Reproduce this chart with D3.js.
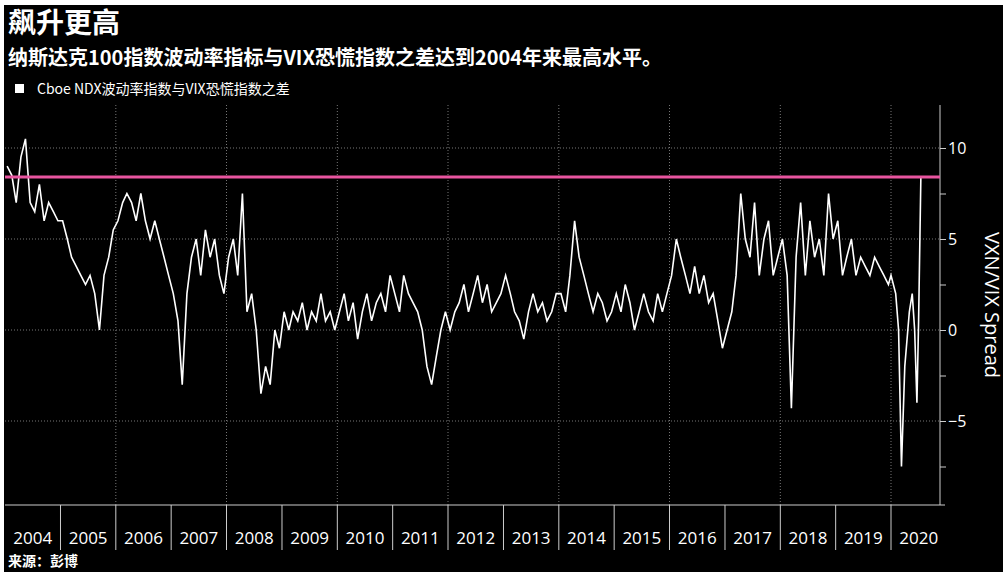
<!DOCTYPE html>
<html><head><meta charset="utf-8">
<script src="https://cdn.jsdelivr.net/npm/d3@7"></script>
<style>body{margin:0;background:#fff}svg{display:block}</style>
</head><body><svg id="c" width="1007" height="576"></svg>
<script>
// monthly readings 2004-2019, then 2020 by date
const yearsMonthly = d3.range(2004, 2020);
const spreadMonthly = [
  9, 8.5, 7, 9.5, 10.5, 7, 6.5, 8, 6, 7, 6.5, 6,
  6, 5, 4, 3.5, 3, 2.5, 3, 2, 0, 3, 4, 5.5,
  6, 7, 7.5, 7, 6, 7.5, 6, 5, 6, 5, 4, 3,
  2, 0.5, -3, 2, 4, 5, 3, 5.5, 4, 5, 3, 2,
  4, 5, 3, 7.5, 1, 2, 0, -3.5, -2, -3, 0, -1,
  1, 0, 1, 0.5, 1.5, 0, 1, 0.5, 2, 0.5, 1, 0,
  1, 2, 0.5, 1.5, -0.5, 1, 2, 0.5, 1.5, 2, 1, 3,
  2, 1, 3, 2, 1.5, 1, 0, -2, -3, -1.5, 0, 1,
  0, 1, 1.5, 2.5, 1, 2, 3, 1.5, 2.5, 1, 1.5, 2,
  3, 2, 1, 0.5, -0.5, 1, 2, 1, 1.5, 0.5, 1, 2,
  2, 1, 3, 6, 4, 3, 2, 1, 2, 1.5, 0.5, 1,
  2, 1, 2.5, 1.5, 0, 1, 2, 1, 0.5, 2, 1, 2,
  3, 5, 4, 3, 2, 3.5, 2, 3, 1.5, 2, 0.5, -1,
  0, 1, 3, 7.5, 5, 4, 7, 3, 5, 6, 3, 4,
  5, 3, -4.3, 4, 7, 3, 6, 4, 5, 3, 7.5, 5,
  6, 3, 4, 5, 3, 4, 3.5, 3, 4, 3.5, 3, 2.5
];
const dates2020 = ["2020-01-01","2020-02-01","2020-02-20","2020-03-10","2020-04-01","2020-05-01","2020-05-20","2020-06-05","2020-06-20","2020-07-01","2020-07-16"];
const spread2020 = [3, 2, 0, -7.5, -2, 1, 2, 0, -4, 0.5, 8.4];
const highLevel = 8.4;
const yTicks = [10, 5, 0, -5];
const yearLabels = d3.range(2004, 2021);

const data = [];
yearsMonthly.forEach((y, i) => {
  for (let m = 0; m < 12; m++) data.push({ d: new Date(y, m, 15), v: spreadMonthly[i * 12 + m] });
});
dates2020.forEach((s, i) => data.push({ d: new Date(s), v: spread2020[i] }));

const svg = d3.select('#c');
svg.append('rect').attr('x', 4).attr('y', 5).attr('width', 999).attr('height', 567).attr('fill', '#000');

const x = d3.scaleTime().domain([new Date(2004, 0, 1), new Date(2020, 0, 1)]).range([5, 891]);
const y = d3.scaleLinear().domain([0, 10]).range([330, 148]);
const L = 5, R = 940, T = 105, B = 505;

// gridlines
svg.append('g').selectAll('line').data(yTicks).join('line')
  .attr('x1', L).attr('x2', R).attr('y1', d => y(d)).attr('y2', d => y(d))
  .attr('stroke', '#777').attr('stroke-dasharray', '1,2');
svg.append('g').selectAll('line').data(d3.range(2006, 2021, 2)).join('line')
  .attr('x1', d => x(new Date(d, 0, 1))).attr('x2', d => x(new Date(d, 0, 1)))
  .attr('y1', T).attr('y2', B).attr('stroke', '#777').attr('stroke-dasharray', '1,2');

// right axis
const ax = svg.append('g').attr('transform', `translate(${R},0)`)
  .call(d3.axisRight(y).tickValues([10, 7.5, 5, 2.5, 0, -2.5, -5, -7.5]).tickSize(6)
    .tickFormat(d => yTicks.includes(d) ? d3.format('d')(d) : ''));
ax.select('.domain').attr('stroke', '#ccc').attr('d', `M0,${T}V${B}`);
ax.selectAll('line').attr('stroke', '#ccc');
ax.selectAll('text').attr('fill', '#fff').attr('font-size', 16).attr('font-family', 'Open Sans, sans-serif').attr('x', 8);
svg.append('text').attr('transform', `translate(985,305) rotate(90)`)
  .attr('text-anchor', 'middle').attr('fill', '#fff').attr('font-size', 20)
  .attr('font-family', 'Open Sans, sans-serif').text('VXN/VIX Spread');

// bottom axis box
svg.append('line').attr('x1', L).attr('x2', 945).attr('y1', B).attr('y2', B).attr('stroke', '#ccc');
svg.append('g').selectAll('line').data(yearLabels.slice(1)).join('line')
  .attr('x1', d => x(new Date(d, 0, 1))).attr('x2', d => x(new Date(d, 0, 1)))
  .attr('y1', B).attr('y2', 550).attr('stroke', '#ccc');
svg.append('g').selectAll('text').data(yearLabels).join('text')
  .attr('x', d => (x(new Date(d, 0, 1)) + x(new Date(d + 1, 0, 1))) / 2).attr('y', 544)
  .attr('text-anchor', 'middle').attr('fill', '#fff').attr('font-size', 17)
  .attr('font-family', 'Open Sans, sans-serif').text(d => d);

// series
svg.append('path').datum(data)
  .attr('d', d3.line().x(d => x(d.d)).y(d => y(d.v)))
  .attr('fill', 'none').attr('stroke', '#fff').attr('stroke-width', 1.6);
svg.append('line').attr('x1', L).attr('x2', R).attr('y1', y(highLevel)).attr('y2', y(highLevel))
  .attr('stroke', '#e8559f').attr('stroke-width', 3);

// titles
const cjk = '"Noto Sans CJK SC", sans-serif';
svg.append('text').attr('x', 8).attr('y', 33).attr('fill', '#fff').attr('font-size', 28)
  .attr('font-weight', 'bold').attr('font-family', cjk).text('飙升更高');
svg.append('text').attr('x', 8).attr('y', 65).attr('fill', '#fff').attr('font-size', 20)
  .attr('font-weight', 'bold').attr('font-family', cjk).text('纳斯达克100指数波动率指标与VIX恐慌指数之差达到2004年来最高水平。');
svg.append('rect').attr('x', 15).attr('y', 84).attr('width', 9).attr('height', 9).attr('fill', '#fff');
svg.append('text').attr('x', 37).attr('y', 94).attr('fill', '#fff').attr('font-size', 14)
  .attr('font-family', cjk).text('Cboe NDX波动率指数与VIX恐慌指数之差');
svg.append('text').attr('x', 8).attr('y', 566).attr('fill', '#fff').attr('font-size', 14)
  .attr('font-weight', 'bold').attr('font-family', cjk).text('来源：彭博');
</script></body></html>
